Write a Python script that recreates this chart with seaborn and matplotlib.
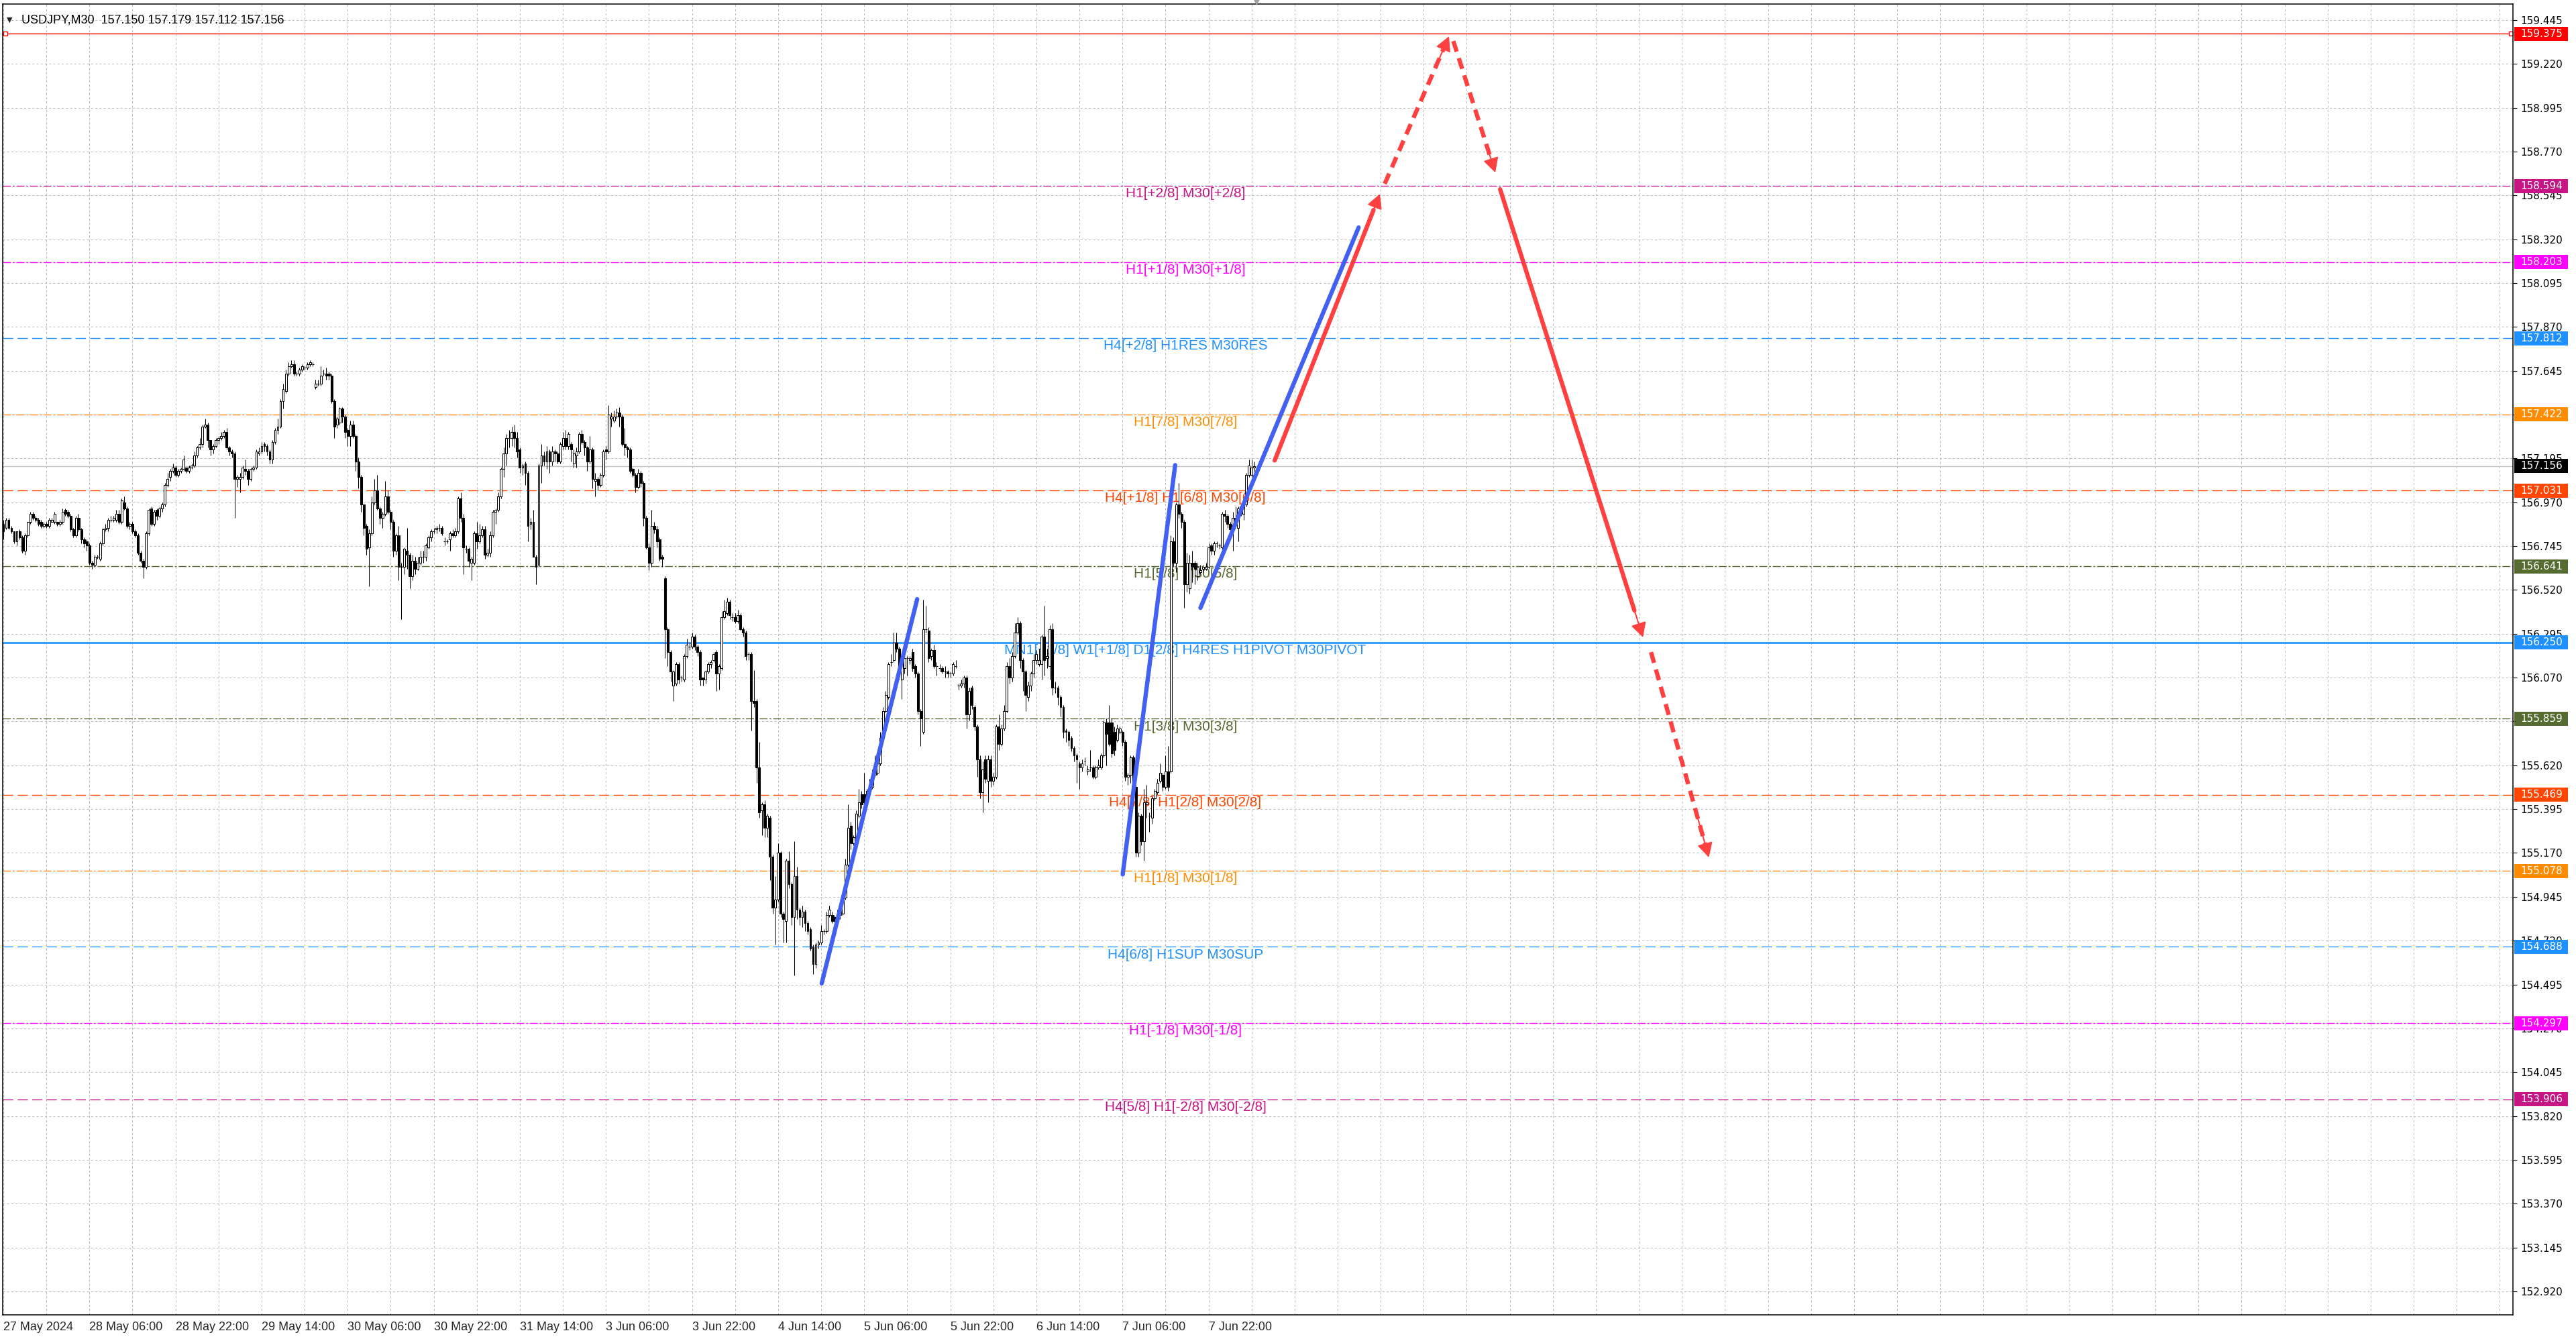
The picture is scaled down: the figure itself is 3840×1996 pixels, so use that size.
import numpy as np
import pandas as pd
import matplotlib
matplotlib.use("Agg")
import matplotlib.pyplot as plt
import matplotlib.transforms as mtransforms
from matplotlib.patches import Rectangle
import seaborn as sns

# USDJPY M30 candles (bar 0 = 27 May 14:00)
opens = [
    156.86, 156.84, 156.88, 156.84, 156.82, 156.77, 156.82, 156.79, 156.72, 156.80,
    156.87, 156.91, 156.89, 156.88, 156.87, 156.85, 156.86, 156.85, 156.87, 156.87,
    156.87, 156.86, 156.87, 156.93, 156.92, 156.90, 156.83, 156.80, 156.89, 156.83,
    156.78, 156.77, 156.75, 156.66, 156.65, 156.69, 156.68, 156.76, 156.83, 156.84,
    156.88, 156.88, 156.88, 156.91, 156.87, 156.97, 156.94, 156.85, 156.86, 156.82,
    156.80, 156.71, 156.67, 156.64, 156.81, 156.94, 156.86, 156.93, 156.90, 156.94,
    156.96, 157.06, 157.10, 157.13, 157.15, 157.11, 157.13, 157.14, 157.15, 157.13,
    157.15, 157.16, 157.21, 157.25, 157.27, 157.36, 157.37, 157.29, 157.24, 157.26,
    157.29, 157.30, 157.31, 157.33, 157.25, 157.23, 157.22, 157.09, 157.09, 157.10,
    157.14, 157.13, 157.09, 157.14, 157.15, 157.22, 157.23, 157.27, 157.26, 157.23,
    157.19, 157.28, 157.34, 157.36, 157.49, 157.54, 157.63, 157.67, 157.68, 157.63,
    157.63, 157.65, 157.66, 157.66, 157.68, 157.68, 157.56, 157.58, 157.58, 157.63,
    157.63, 157.63, 157.62, 157.49, 157.37, 157.38, 157.45, 157.41, 157.34, 157.31,
    157.37, 157.31, 157.18, 157.10, 156.96, 156.85, 156.74, 156.81, 156.97, 157.03,
    156.94, 156.89, 156.91, 157.00, 156.92, 156.87, 156.72, 156.80, 156.64, 156.64,
    156.72, 156.70, 156.59, 156.67, 156.63, 156.66, 156.69, 156.69, 156.74, 156.79,
    156.82, 156.83, 156.84, 156.84, 156.77, 156.77, 156.78, 156.81, 156.80, 156.82,
    156.99, 156.89, 156.73, 156.73, 156.66, 156.66, 156.81, 156.77, 156.80, 156.83,
    156.70, 156.71, 156.80, 156.92, 156.93, 157.00, 157.14, 157.22, 157.30, 157.30,
    157.33, 157.30, 157.24, 157.15, 157.17, 157.12, 156.86, 156.87, 156.69, 156.65,
    157.16, 157.21, 157.18, 157.23, 157.18, 157.23, 157.22, 157.18, 157.26, 157.30,
    157.26, 157.27, 157.17, 157.21, 157.23, 157.32, 157.28, 157.25, 157.18, 157.24,
    157.08, 157.09, 157.06, 157.11, 157.24, 157.23, 157.40, 157.39, 157.41, 157.43,
    157.41, 157.27, 157.25, 157.24, 157.14, 157.11, 157.05, 157.12, 157.07, 156.89,
    156.74, 156.66, 156.85, 156.83, 156.78, 156.69, 156.58, 156.32, 156.20, 156.03,
    156.04, 156.14, 156.07, 156.06, 156.18, 156.23, 156.23, 156.28, 156.23, 156.20,
    156.07, 156.06, 156.10, 156.14, 156.16, 156.20, 156.09, 156.12, 156.38, 156.40,
    156.46, 156.38, 156.38, 156.36, 156.39, 156.32, 156.30, 156.19, 156.19, 155.95,
    155.95, 155.61, 155.39, 155.42, 155.30, 155.35, 155.15, 154.89, 154.93, 155.17,
    154.86, 154.82, 155.13, 155.01, 154.84, 155.05, 154.88, 154.84, 154.87, 154.81,
    154.78, 154.69, 154.60, 154.70, 154.71, 154.77, 154.77, 154.85, 154.85, 154.84,
    154.84, 154.85, 154.86, 154.94, 155.11, 155.31, 155.22, 155.24, 155.36, 155.47,
    155.47, 155.43, 155.49, 155.51, 155.57, 155.58, 155.63, 155.76, 155.90, 155.97,
    156.15, 156.16, 156.25, 156.22, 156.06, 156.12, 156.17, 156.16, 156.20, 156.13,
    156.09, 155.90, 155.79, 156.32, 156.31, 156.18, 156.21, 156.13, 156.12, 156.12,
    156.10, 156.10, 156.09, 156.09, 156.13, 156.03, 156.03, 156.04, 156.07, 155.88,
    156.02, 155.92, 155.82, 155.65, 155.48, 155.65, 155.54, 155.65, 155.54, 155.56,
    155.82, 155.73, 155.81, 155.90, 156.13, 156.07, 156.18, 156.30, 156.35, 156.16,
    156.10, 155.97, 156.03, 156.09, 156.16, 156.14, 156.14, 156.28, 156.17, 156.13,
    156.32, 156.02, 156.02, 155.97, 155.92, 155.80, 155.79, 155.76, 155.71, 155.67,
    155.63, 155.61, 155.64, 155.59, 155.61, 155.61, 155.56, 155.61, 155.61, 155.67,
    155.84, 155.84, 155.84, 155.79, 155.75, 155.79, 155.79, 155.74, 155.56, 155.57,
    155.66, 155.51, 155.17, 155.36, 155.23, 155.42, 155.36, 155.35, 155.45, 155.48,
    155.54, 155.57, 155.51, 155.59, 155.59, 156.77, 156.66, 156.96, 156.91, 156.87,
    156.55, 156.53, 156.66, 156.66, 156.59, 156.61, 156.63, 156.63, 156.64, 156.75,
    156.72, 156.76, 156.75, 156.74, 156.91, 156.90, 156.86, 156.83, 156.89, 156.84,
    156.91, 156.91, 156.96, 157.11, 157.11, 157.150,
]
highs = [
    156.88, 156.89, 156.89, 156.85, 156.82, 156.82, 156.83, 156.80, 156.81, 156.87,
    156.92, 156.92, 156.90, 156.89, 156.88, 156.87, 156.87, 156.89, 156.89, 156.92,
    156.87, 156.88, 156.94, 156.94, 156.93, 156.91, 156.84, 156.90, 156.91, 156.84,
    156.79, 156.78, 156.76, 156.67, 156.70, 156.70, 156.77, 156.84, 156.86, 156.89,
    156.90, 156.90, 156.93, 156.93, 156.99, 157.00, 156.95, 156.87, 156.87, 156.83,
    156.81, 156.72, 156.68, 156.82, 156.94, 156.95, 156.93, 156.94, 156.95, 156.97,
    157.07, 157.12, 157.14, 157.17, 157.16, 157.14, 157.15, 157.21, 157.15, 157.16,
    157.17, 157.23, 157.26, 157.30, 157.37, 157.40, 157.38, 157.29, 157.27, 157.30,
    157.31, 157.33, 157.34, 157.35, 157.26, 157.24, 157.23, 157.11, 157.12, 157.16,
    157.19, 157.14, 157.15, 157.16, 157.24, 157.25, 157.28, 157.28, 157.27, 157.24,
    157.29, 157.35, 157.40, 157.50, 157.58, 157.65, 157.69, 157.70, 157.70, 157.64,
    157.66, 157.68, 157.67, 157.69, 157.70, 157.69, 157.60, 157.60, 157.67, 157.65,
    157.66, 157.64, 157.63, 157.50, 157.41, 157.46, 157.46, 157.42, 157.35, 157.39,
    157.39, 157.32, 157.20, 157.11, 156.96, 156.86, 156.83, 157.00, 157.09, 157.11,
    156.95, 156.92, 157.08, 157.03, 156.93, 156.88, 156.81, 156.85, 156.66, 156.74,
    156.84, 156.71, 156.70, 156.69, 156.69, 156.72, 156.72, 156.76, 156.80, 156.83,
    156.84, 156.85, 156.86, 156.85, 156.79, 156.78, 156.82, 156.83, 156.84, 157.00,
    157.02, 156.91, 156.75, 156.74, 156.69, 156.82, 156.87, 156.86, 156.85, 156.85,
    156.73, 156.82, 156.93, 156.94, 157.02, 157.15, 157.25, 157.32, 157.34, 157.36,
    157.37, 157.33, 157.25, 157.17, 157.18, 157.13, 156.89, 156.93, 156.70, 157.17,
    157.27, 157.23, 157.26, 157.24, 157.26, 157.24, 157.23, 157.28, 157.33, 157.34,
    157.33, 157.28, 157.24, 157.25, 157.33, 157.34, 157.29, 157.26, 157.31, 157.25,
    157.12, 157.10, 157.12, 157.24, 157.26, 157.47, 157.43, 157.44, 157.45, 157.46,
    157.42, 157.35, 157.26, 157.25, 157.15, 157.12, 157.14, 157.13, 157.08, 156.90,
    156.76, 156.93, 156.87, 156.85, 156.79, 156.70, 156.59, 156.33, 156.21, 156.11,
    156.15, 156.15, 156.08, 156.19, 156.27, 156.25, 156.30, 156.29, 156.24, 156.21,
    156.07, 156.11, 156.15, 156.16, 156.20, 156.21, 156.14, 156.41, 156.47, 156.48,
    156.47, 156.40, 156.40, 156.42, 156.40, 156.33, 156.31, 156.20, 156.20, 156.11,
    155.96, 155.74, 155.43, 155.44, 155.37, 155.36, 155.16, 155.05, 155.22, 155.18,
    154.87, 155.14, 155.18, 155.02, 155.23, 155.10, 154.89, 154.90, 154.88, 154.82,
    154.79, 154.70, 154.71, 154.72, 154.80, 154.78, 154.87, 154.90, 154.87, 154.85,
    154.88, 154.91, 154.97, 155.14, 155.42, 155.33, 155.26, 155.39, 155.50, 155.49,
    155.58, 155.50, 155.55, 155.60, 155.67, 155.70, 155.79, 155.92, 156.00, 156.15,
    156.19, 156.30, 156.30, 156.23, 156.17, 156.18, 156.18, 156.18, 156.22, 156.14,
    156.10, 155.91, 156.47, 156.44, 156.33, 156.22, 156.24, 156.15, 156.14, 156.13,
    156.13, 156.11, 156.10, 156.15, 156.16, 156.04, 156.06, 156.08, 156.08, 156.02,
    156.03, 155.93, 155.83, 155.67, 155.64, 155.67, 155.67, 155.67, 155.58, 155.83,
    155.88, 155.83, 155.93, 156.15, 156.17, 156.20, 156.35, 156.38, 156.36, 156.17,
    156.11, 156.05, 156.10, 156.19, 156.21, 156.22, 156.29, 156.44, 156.22, 156.34,
    156.35, 156.05, 156.03, 155.98, 155.93, 155.81, 155.80, 155.77, 155.72, 155.68,
    155.64, 155.65, 155.66, 155.62, 155.70, 155.62, 155.62, 155.65, 155.68, 155.85,
    155.86, 155.93, 155.86, 155.82, 155.83, 155.82, 155.80, 155.75, 155.58, 155.67,
    155.67, 155.52, 155.38, 155.37, 155.50, 155.52, 155.38, 155.46, 155.50, 155.55,
    155.63, 155.58, 155.67, 155.72, 156.80, 156.79, 156.97, 157.07, 156.92, 156.88,
    156.71, 156.70, 156.72, 156.67, 156.66, 156.65, 156.65, 156.66, 156.76, 156.76,
    156.77, 156.77, 156.76, 156.92, 156.93, 156.91, 156.87, 156.92, 156.95, 156.95,
    156.96, 156.98, 157.12, 157.19, 157.19, 157.179,
]
lows = [
    156.78, 156.83, 156.83, 156.81, 156.76, 156.75, 156.78, 156.71, 156.70, 156.79,
    156.86, 156.88, 156.87, 156.85, 156.84, 156.84, 156.84, 156.84, 156.87, 156.86,
    156.85, 156.85, 156.86, 156.90, 156.89, 156.82, 156.79, 156.79, 156.82, 156.76,
    156.74, 156.72, 156.65, 156.63, 156.64, 156.68, 156.67, 156.75, 156.82, 156.82,
    156.87, 156.87, 156.87, 156.86, 156.86, 156.93, 156.84, 156.83, 156.81, 156.79,
    156.70, 156.66, 156.58, 156.63, 156.80, 156.85, 156.85, 156.88, 156.89, 156.92,
    156.95, 157.05, 157.08, 157.12, 157.10, 157.10, 157.12, 157.13, 157.12, 157.12,
    157.14, 157.15, 157.20, 157.24, 157.25, 157.35, 157.25, 157.21, 157.22, 157.25,
    157.27, 157.29, 157.30, 157.24, 157.21, 157.20, 156.89, 157.05, 157.02, 157.09,
    157.11, 157.06, 157.08, 157.13, 157.14, 157.21, 157.22, 157.23, 157.21, 157.17,
    157.17, 157.27, 157.32, 157.35, 157.45, 157.53, 157.62, 157.66, 157.62, 157.62,
    157.62, 157.64, 157.65, 157.65, 157.67, 157.67, 157.55, 157.57, 157.57, 157.62,
    157.60, 157.60, 157.48, 157.30, 157.35, 157.37, 157.38, 157.30, 157.26, 157.26,
    157.30, 157.13, 157.04, 156.92, 156.80, 156.70, 156.54, 156.80, 156.96, 156.93,
    156.86, 156.84, 156.90, 156.91, 156.83, 156.69, 156.70, 156.57, 156.37, 156.60,
    156.63, 156.53, 156.57, 156.60, 156.62, 156.65, 156.66, 156.67, 156.73, 156.77,
    156.81, 156.81, 156.82, 156.80, 156.75, 156.76, 156.72, 156.79, 156.79, 156.81,
    156.87, 156.60, 156.71, 156.64, 156.57, 156.65, 156.73, 156.76, 156.79, 156.68,
    156.69, 156.69, 156.79, 156.86, 156.92, 156.99, 157.10, 157.16, 157.25, 157.26,
    157.25, 157.20, 157.12, 157.11, 157.06, 156.77, 156.83, 156.69, 156.55, 156.64,
    157.07, 157.16, 157.14, 157.12, 157.16, 157.18, 157.17, 157.17, 157.24, 157.24,
    157.24, 157.18, 157.15, 157.15, 157.22, 157.27, 157.21, 157.13, 157.17, 157.04,
    157.00, 157.03, 157.05, 157.10, 157.19, 157.22, 157.36, 157.38, 157.40, 157.36,
    157.26, 157.21, 157.20, 157.12, 157.10, 157.02, 157.04, 157.05, 156.85, 156.73,
    156.62, 156.64, 156.81, 156.74, 156.67, 156.64, 156.17, 156.13, 156.05, 155.95,
    156.03, 156.04, 156.05, 156.05, 156.17, 156.21, 156.22, 156.21, 156.18, 156.03,
    156.03, 156.04, 156.09, 156.12, 156.15, 156.00, 156.01, 156.11, 156.37, 156.39,
    156.37, 156.36, 156.35, 156.35, 156.31, 156.28, 156.16, 156.16, 155.80, 155.92,
    155.53, 155.35, 155.26, 155.25, 155.25, 155.03, 154.86, 154.70, 154.92, 154.84,
    154.71, 154.71, 154.99, 154.80, 154.54, 154.83, 154.80, 154.79, 154.77, 154.75,
    154.67, 154.55, 154.58, 154.68, 154.70, 154.75, 154.76, 154.84, 154.81, 154.80,
    154.82, 154.83, 154.85, 154.93, 155.10, 155.19, 155.21, 155.23, 155.35, 155.40,
    155.41, 155.42, 155.48, 155.50, 155.56, 155.57, 155.62, 155.75, 155.89, 155.96,
    156.13, 156.15, 156.20, 156.06, 155.96, 156.09, 156.08, 156.14, 156.10, 156.07,
    155.88, 155.72, 155.78, 156.30, 156.15, 156.16, 156.12, 156.08, 156.10, 156.09,
    156.07, 156.07, 156.07, 156.08, 156.12, 156.01, 156.02, 156.02, 155.81, 155.85,
    155.91, 155.80, 155.56, 155.45, 155.38, 155.53, 155.43, 155.51, 155.52, 155.55,
    155.70, 155.72, 155.80, 155.89, 156.04, 156.05, 156.17, 156.29, 156.12, 156.00,
    155.90, 155.95, 156.00, 156.07, 156.14, 156.13, 156.06, 156.08, 156.12, 156.06,
    155.98, 155.99, 155.93, 155.87, 155.76, 155.74, 155.72, 155.69, 155.64, 155.53,
    155.50, 155.59, 155.62, 155.57, 155.59, 155.55, 155.55, 155.60, 155.60, 155.66,
    155.62, 155.72, 155.66, 155.67, 155.74, 155.78, 155.72, 155.54, 155.52, 155.53,
    155.49, 155.15, 155.15, 155.21, 155.13, 155.35, 155.28, 155.32, 155.44, 155.47,
    155.53, 155.49, 155.50, 155.49, 155.58, 156.64, 156.61, 156.89, 156.84, 156.43,
    156.51, 156.50, 156.56, 156.55, 156.57, 156.60, 156.61, 156.62, 156.63, 156.70,
    156.70, 156.74, 156.73, 156.70, 156.87, 156.84, 156.78, 156.72, 156.86, 156.77,
    156.90, 156.88, 156.95, 157.10, 157.10, 157.112,
]
closes = [
    156.82, 156.88, 156.84, 156.82, 156.77, 156.82, 156.79, 156.72, 156.80, 156.87,
    156.91, 156.89, 156.88, 156.86, 156.85, 156.86, 156.85, 156.88, 156.88, 156.91,
    156.86, 156.87, 156.92, 156.91, 156.90, 156.83, 156.80, 156.89, 156.83, 156.78,
    156.76, 156.75, 156.66, 156.65, 156.69, 156.69, 156.76, 156.83, 156.84, 156.88,
    156.88, 156.89, 156.91, 156.87, 156.98, 156.94, 156.85, 156.86, 156.82, 156.80,
    156.71, 156.67, 156.64, 156.81, 156.93, 156.86, 156.92, 156.90, 156.94, 156.96,
    157.06, 157.09, 157.13, 157.15, 157.11, 157.13, 157.14, 157.19, 157.13, 157.15,
    157.16, 157.21, 157.25, 157.27, 157.36, 157.37, 157.29, 157.24, 157.26, 157.29,
    157.30, 157.31, 157.33, 157.25, 157.23, 157.22, 157.09, 157.10, 157.10, 157.15,
    157.13, 157.09, 157.14, 157.15, 157.23, 157.23, 157.26, 157.26, 157.23, 157.19,
    157.28, 157.34, 157.36, 157.49, 157.55, 157.63, 157.67, 157.68, 157.63, 157.63,
    157.65, 157.67, 157.66, 157.68, 157.69, 157.68, 157.58, 157.58, 157.62, 157.63,
    157.62, 157.62, 157.49, 157.36, 157.40, 157.45, 157.41, 157.33, 157.31, 157.37,
    157.31, 157.18, 157.10, 156.96, 156.84, 156.73, 156.81, 156.97, 157.03, 156.94,
    156.89, 156.91, 157.00, 156.92, 156.87, 156.72, 156.80, 156.64, 156.64, 156.73,
    156.70, 156.59, 156.67, 156.63, 156.66, 156.69, 156.69, 156.75, 156.79, 156.82,
    156.82, 156.84, 156.84, 156.81, 156.77, 156.77, 156.81, 156.80, 156.82, 156.99,
    156.89, 156.74, 156.73, 156.67, 156.68, 156.81, 156.77, 156.80, 156.83, 156.70,
    156.71, 156.80, 156.92, 156.93, 157.00, 157.14, 157.22, 157.30, 157.30, 157.33,
    157.30, 157.23, 157.15, 157.16, 157.12, 156.85, 156.87, 156.69, 156.64, 157.16,
    157.21, 157.18, 157.23, 157.18, 157.23, 157.22, 157.18, 157.27, 157.30, 157.26,
    157.32, 157.24, 157.22, 157.23, 157.32, 157.28, 157.25, 157.18, 157.24, 157.09,
    157.09, 157.06, 157.11, 157.23, 157.23, 157.42, 157.41, 157.41, 157.43, 157.41,
    157.27, 157.25, 157.24, 157.13, 157.11, 157.05, 157.12, 157.07, 156.89, 156.74,
    156.66, 156.85, 156.83, 156.77, 156.68, 156.68, 156.32, 156.20, 156.10, 156.10,
    156.14, 156.06, 156.07, 156.18, 156.24, 156.23, 156.28, 156.23, 156.20, 156.06,
    156.06, 156.10, 156.14, 156.15, 156.19, 156.09, 156.13, 156.38, 156.41, 156.46,
    156.39, 156.38, 156.36, 156.39, 156.32, 156.30, 156.18, 156.19, 155.95, 155.94,
    155.61, 155.38, 155.42, 155.30, 155.36, 155.15, 154.89, 154.93, 155.17, 154.86,
    154.83, 155.13, 155.01, 154.84, 155.05, 154.88, 154.84, 154.87, 154.81, 154.77,
    154.68, 154.60, 154.70, 154.71, 154.77, 154.77, 154.85, 154.88, 154.82, 154.82,
    154.86, 154.90, 154.95, 155.11, 155.30, 155.22, 155.25, 155.37, 155.43, 155.42,
    155.43, 155.49, 155.51, 155.57, 155.61, 155.63, 155.76, 155.90, 155.98, 156.14,
    156.15, 156.25, 156.22, 156.10, 156.16, 156.17, 156.17, 156.17, 156.12, 156.09,
    155.90, 155.86, 156.32, 156.32, 156.17, 156.21, 156.13, 156.13, 156.12, 156.10,
    156.10, 156.09, 156.09, 156.14, 156.13, 156.03, 156.04, 156.07, 155.88, 156.00,
    155.93, 155.82, 155.65, 155.48, 155.60, 155.55, 155.65, 155.54, 155.56, 155.82,
    155.73, 155.81, 155.90, 156.13, 156.07, 156.18, 156.30, 156.35, 156.16, 156.10,
    155.98, 156.03, 156.09, 156.16, 156.19, 156.16, 156.28, 156.16, 156.18, 156.32,
    156.02, 156.02, 155.97, 155.92, 155.79, 155.79, 155.75, 155.71, 155.67, 155.65,
    155.61, 155.63, 155.64, 155.60, 155.61, 155.56, 155.61, 155.62, 155.67, 155.84,
    155.78, 155.73, 155.68, 155.70, 155.81, 155.81, 155.74, 155.56, 155.57, 155.66,
    155.51, 155.17, 155.36, 155.23, 155.43, 155.43, 155.36, 155.45, 155.49, 155.53,
    155.58, 155.51, 155.59, 155.51, 156.77, 156.66, 156.96, 156.91, 156.87, 156.55,
    156.66, 156.66, 156.64, 156.63, 156.64, 156.62, 156.64, 156.64, 156.74, 156.72,
    156.76, 156.76, 156.75, 156.91, 156.90, 156.86, 156.83, 156.89, 156.88, 156.94,
    156.95, 156.97, 157.11, 157.16, 157.15, 157.156,
]

time_labels = ["27 May 2024", "28 May 06:00", "28 May 22:00", "29 May 14:00", "30 May 06:00",
               "30 May 22:00", "31 May 14:00", "3 Jun 06:00", "3 Jun 22:00", "4 Jun 14:00",
               "5 Jun 06:00", "5 Jun 22:00", "6 Jun 14:00", "7 Jun 06:00", "7 Jun 22:00"]

price_ticks = [159.445, 159.220, 158.995, 158.770, 158.545, 158.320, 158.095, 157.870,
               157.645, 157.420, 157.195, 156.970, 156.745, 156.520, 156.295, 156.070,
               155.845, 155.620, 155.395, 155.170, 154.945, 154.720, 154.495, 154.270,
               154.045, 153.820, 153.595, 153.370, 153.145, 152.920]

# Murrey math levels
levels = [159.375, 158.594, 158.203, 157.812, 157.422, 157.156, 157.031, 156.641,
          156.250, 155.859, 155.469, 155.078, 154.688, 154.297, 153.906]
level_names = ["", "H1[+2/8] M30[+2/8]", "H1[+1/8] M30[+1/8]", "H4[+2/8] H1RES M30RES",
               "H1[7/8] M30[7/8]", "", "H4[+1/8] H1[6/8] M30[6/8]", "H1[5/8] M30[5/8]",
               "MN1[+1/8] W1[+1/8] D1[2/8] H4RES H1PIVOT M30PIVOT", "H1[3/8] M30[3/8]",
               "H4[7/8] H1[2/8] M30[2/8]", "H1[1/8] M30[1/8]", "H4[6/8] H1SUP M30SUP",
               "H1[-1/8] M30[-1/8]", "H4[5/8] H1[-2/8] M30[-2/8]"]
level_colors = ["#FF0000", "#C71585", "#FF00FF", "#1E90FF", "#FF8C00", "#C0C0C0", "#FF4500",
                "#556B2F", "#1E90FF", "#556B2F", "#FF4500", "#FF8C00", "#1E90FF", "#FF00FF",
                "#C71585"]
level_kinds = ["solid", "dashdot", "dashdot", "dash", "dashdot", "solid", "dash", "dashdot",
               "thick", "dashdot", "dash", "dashdot", "dash", "dashdot", "dash"]
box_colors = list(level_colors)
box_colors[5] = "#000000"

# hand drawn trend lines (bar index, price)
trend_bars = [304.2, 339.7, 416.1, 435.6, 445.0, 503.8]
trend_prices = [154.500, 156.473, 155.060, 157.161, 156.428, 158.381]
trend_ids = [1, 1, 2, 2, 3, 3]

# forecast arrows (start/end bar, start/end price)
arrow_x0 = [472.6, 513.5, 539.0, 556.4, 612.5]
arrow_x1 = [511.7, 537.4, 554.6, 609.5, 634.0]
arrow_y0 = [157.185, 158.605, 159.338, 158.577, 156.201]
arrow_y1 = [158.553, 159.362, 158.663, 156.277, 155.147]
arrow_dashed = [False, True, True, False, True]

# ---------------------------------------------------------------
sns.set_style("white")
plt.rcParams["font.family"] = ["Liberation Sans", "DejaVu Sans"]

W, H = 3840, 1996
fig = plt.figure(figsize=(W / 100, H / 100), dpi=100)
ax = fig.add_axes([4 / W, 36 / H, 3742 / W, 1954 / H])
ax.set_xlim(-0.25, 932.9)
ax.set_ylim(152.799, 159.528)

o = np.array(opens)
c = np.array(closes)
h = np.maximum(np.array(highs), np.maximum(o, c))
l = np.minimum(np.array(lows), np.minimum(o, c))
x = np.arange(len(c))

# grid
ax.set_yticks(price_ticks)
ax.set_yticklabels([f"{p:.3f}" for p in price_ticks])
xt = np.arange(0, 933, 32)
ax.set_xticks(xt)
ax.set_xticklabels(time_labels + [""] * (len(xt) - len(time_labels)), ha="left")
ax.set_xticks(np.arange(16, 933, 32), minor=True)
gstyle = dict(color="#BDBDBD", linestyle=(0, (3, 3)), linewidth=0.75)
ax.grid(True, which="both", axis="x", **gstyle)
ax.grid(True, which="major", axis="y", **gstyle)
ax.set_axisbelow(True)

ax.yaxis.tick_right()
ax.tick_params(axis="y", length=4.3, width=0.8, pad=3.6, labelsize=11, colors="black")
ax.tick_params(axis="x", which="major", length=4.3, width=0.8, pad=3, labelsize=13)
ax.tick_params(axis="x", which="minor", length=0)
for t in ax.get_yticklabels():
    t.set_family("DejaVu Sans")
for s in ax.spines.values():
    s.set_color("black")
    s.set_linewidth(1.1)

# level lines + names
styles = {"solid": ("-", 1.0), "thick": ("-", 1.9),
          "dash": ((0, (11, 4.6)), 1.0), "dashdot": ((0, (8.5, 2, 2, 2)), 1.0)}
label_bar = 439.4
for p, name, col, kind in zip(levels, level_names, level_colors, level_kinds):
    ls, lw = styles[kind]
    ax.axhline(p, color=col, linestyle=ls, linewidth=lw, zorder=1.2)
    if name:
        ax.annotate(name, xy=(label_bar, p), xytext=(0, -1.5), textcoords="offset points",
                    ha="center", va="top", fontsize=15, color=col, zorder=1.5)

trans = mtransforms.blended_transform_factory(ax.transAxes, ax.transData)
ax.plot([0.001, 0.9992], [levels[0], levels[0]], transform=trans, ls="none", marker="s",
        ms=4, mfc="white", mec=level_colors[0], mew=1.0, zorder=2)

# candles
body_lo = np.minimum(o, c)
body_h = np.abs(c - o)
up = c >= o
ax.vlines(x, l, h, color="black", linewidth=0.75, zorder=3)
ax.bar(x[up], body_h[up], bottom=body_lo[up], width=0.72, color="white",
       edgecolor="black", linewidth=0.75, zorder=4)
ax.bar(x[~up], body_h[~up], bottom=body_lo[~up], width=0.72, color="black",
       edgecolor="black", linewidth=0.75, zorder=4)

# blue trend lines
trend = pd.DataFrame({"bar": trend_bars, "price": trend_prices, "line": trend_ids})
sns.lineplot(data=trend, x="bar", y="price", units="line", estimator=None, sort=False,
             color="#4361F0", linewidth=4.6, solid_capstyle="round", ax=ax, zorder=8)
ax.set_xlabel("")
ax.set_ylabel("")

# red forecast arrows
red = "#FF4040"
for x0, x1, y0, y1, dsh in zip(arrow_x0, arrow_x1, arrow_y0, arrow_y1, arrow_dashed):
    xs = x0 + (x1 - x0) * 0.94
    ys = y0 + (y1 - y0) * 0.94
    ax.plot([x0, xs], [y0, ys], color=red, linewidth=4.6,
            linestyle=(0, (2.6, 1.6)) if dsh else "-",
            solid_capstyle="round", dash_capstyle="butt", zorder=8)
    xh = x0 + (x1 - x0) * 0.8
    yh = y0 + (y1 - y0) * 0.8
    ax.annotate("", xy=(x1, y1), xytext=(xh, yh),
                arrowprops=dict(arrowstyle="-|>,head_length=0.6,head_width=0.32",
                                color=red, lw=1.5, mutation_scale=22,
                                shrinkA=0, shrinkB=0), zorder=9)

# price boxes on the right scale
bw = 80 / 3742
bh = 21 / 290.4
for p, col in zip(levels, box_colors):
    ax.add_patch(Rectangle((1 + 2 / 3742, p - bh / 2), bw, bh, transform=trans,
                           facecolor=col, edgecolor="none", clip_on=False, zorder=10))
    ax.text(1 + 11 / 3742, p, f"{p:.3f}", transform=trans, color="white", va="center",
            ha="left", fontsize=11, family="DejaVu Sans", zorder=11, clip_on=False)

# header
fig.text(10 / W, 1 - 30 / H, "\u25bc", family="DejaVu Sans", fontsize=8, va="center")
fig.text(32 / W, 1 - 30 / H, "USDJPY,M30  157.150 157.179 157.112 157.156",
         fontsize=13, va="center", color="black")
fig.text(1873 / W, 1 - 4 / H, "\u25bc", family="DejaVu Sans", fontsize=8, va="center",
         ha="center", color="#A0A0A0")

fig.savefig("out.png", dpi=100, facecolor="white")
